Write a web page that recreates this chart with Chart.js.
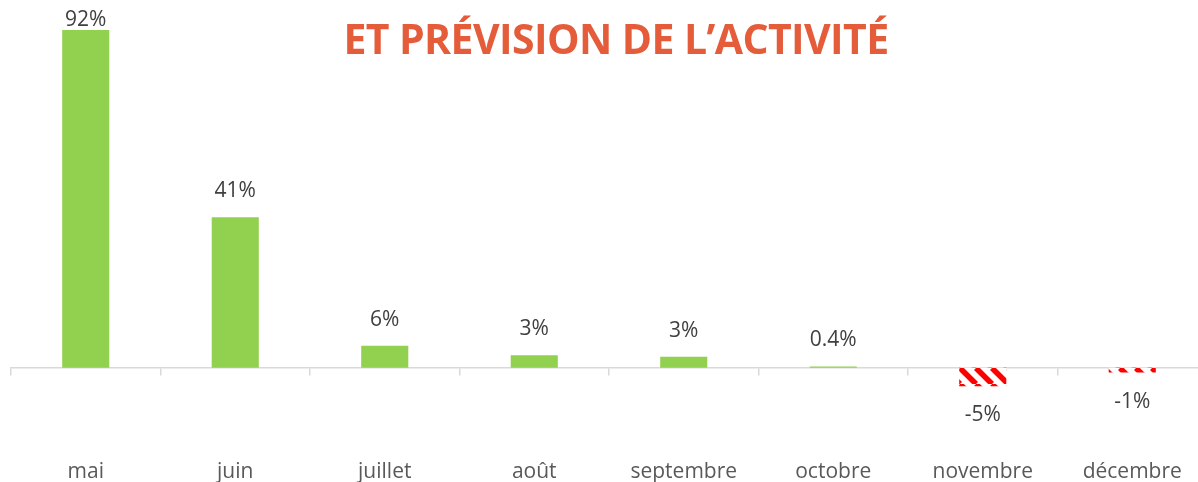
<!DOCTYPE html>
<html lang="fr">
<head>
<meta charset="utf-8">
<script src="https://cdn.jsdelivr.net/npm/chart.js@4/dist/chart.umd.min.js"></script>
<style>
  html, body { margin: 0; padding: 0; background: #fff; overflow: hidden; }
  #wrap { position: relative; width: 1198px; height: 482px; overflow: hidden; }
  #title {
    position: absolute; top: 10px; left: 0; width: 1232px; text-align: center;
    font: bold 41px "Open Sans", sans-serif; color: #E45C3A; letter-spacing: -0.6px;
    line-height: 56px; pointer-events: none;
  }
  canvas { position: absolute; left: 0; top: 0; }
</style>
</head>
<body>
<div id="wrap">
  <canvas id="chart" width="1210" height="490" style="width:1210px;height:490px"></canvas>
  <div id="title">ET PRÉVISION DE L’ACTIVITÉ</div>
</div>
<script>
const months = ['mai', 'juin', 'juillet', 'août', 'septembre', 'octobre', 'novembre', 'décembre'];
const activity = [92, 41, 6, 3.4, 3, 0.4, -5, -1.3];
const valueLabels = ['92%', '41%', '6%', '3%', '3%', '0.4%', '-5%', '-1%'];

function stripePattern() {
  const c = document.createElement('canvas');
  c.width = 16; c.height = 16;
  const g = c.getContext('2d');
  g.fillStyle = '#fff';
  g.fillRect(0, 0, 16, 16);
  g.strokeStyle = '#FF0000';
  g.lineWidth = 5.5;
  for (let k = -16; k <= 32; k += 16) {
    g.beginPath();
    g.moveTo(k, 0);
    g.lineTo(k + 16, 16);
    g.stroke();
  }
  return g.createPattern(c, 'repeat');
}
const stripes = stripePattern();

// value labels above positive bars, below negative ones
const barLabels = {
  id: 'barLabels',
  afterDatasetsDraw(chart) {
    const ctx = chart.ctx;
    const meta = chart.getDatasetMeta(0);
    ctx.save();
    ctx.font = '21px "Open Sans", sans-serif';
    ctx.fillStyle = '#404040';
    ctx.textAlign = 'center';
    ctx.textBaseline = 'middle';
    meta.data.forEach((bar, i) => {
      if (activity[i] >= 0) {
        ctx.fillText(valueLabels[i], bar.x, Math.max(bar.y - 26, 20));
      } else {
        ctx.fillText(valueLabels[i], bar.x, bar.y + 29);
      }
    });
    ctx.restore();
  }
};

new Chart(document.getElementById('chart'), {
  type: 'bar',
  data: {
    labels: months,
    datasets: [{
      data: activity,
      xAxisID: 'x',
      backgroundColor: activity.map(v => v < 0 ? stripes : '#92D050'),
      borderWidth: 0,
      categoryPercentage: 1,
      barPercentage: 0.315
    }]
  },
  options: {
    responsive: false,
    animation: false,
    layout: { autoPadding: false, padding: { left: 11, right: 3, top: 0, bottom: 0 } },
    scales: {
      // zero line with tick marks between categories
      x: {
        position: { y: 0 },
        grid: { offset: true, drawOnChartArea: false, tickLength: 7, color: '#D9D9D9', lineWidth: 1.5 },
        border: { color: '#D9D9D9', width: 1.5 },
        ticks: { display: false }
      },
      // month names along the bottom
      xLabels: {
        type: 'category',
        labels: months,
        position: 'bottom',
        offset: true,
        grid: { display: false },
        border: { display: false },
        ticks: { color: '#595959', font: { size: 21, family: '"Open Sans", sans-serif' }, padding: 5 }
      },
      y: { display: false, min: -21.5, max: 100.17 }
    },
    plugins: { legend: { display: false }, tooltip: { enabled: false } }
  },
  plugins: [barLabels]
});
</script>
</body>
</html>
